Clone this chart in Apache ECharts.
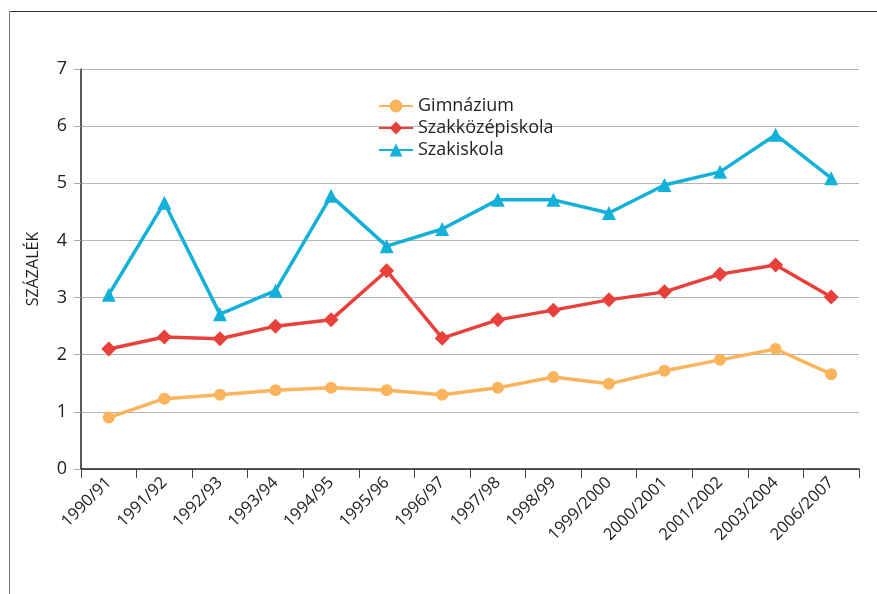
<!DOCTYPE html>
<html>
<head>
<meta charset="utf-8">
<script src="https://cdn.jsdelivr.net/npm/echarts@6/dist/echarts.min.js"></script>
<style>
  html, body { margin: 0; padding: 0; background: #fff; }
  #chart { width: 877px; height: 594px; }
</style>
</head>
<body>
<div id="chart"></div>
<script>
const categories = ['1990/91', '1991/92', '1992/93', '1993/94', '1994/95', '1995/96', '1996/97',
  '1997/98', '1998/99', '1999/2000', '2000/2001', '2001/2002', '2003/2004', '2006/2007'];
const gimnazium = [0.9, 1.23, 1.3, 1.38, 1.42, 1.38, 1.3, 1.42, 1.61, 1.49, 1.72, 1.91, 2.1, 1.66];
const szakkozep = [2.1, 2.31, 2.28, 2.5, 2.61, 3.47, 2.29, 2.61, 2.78, 2.96, 3.1, 3.41, 3.57, 3.01];
const szakiskola = [3.05, 4.66, 2.71, 3.12, 4.78, 3.9, 4.2, 4.71, 4.71, 4.48, 4.97, 5.2, 5.85, 5.09];

const chart = echarts.init(document.getElementById('chart'));
const font = '"Open Sans", "DejaVu Sans", sans-serif';

chart.setOption({
  animation: false,
  textStyle: { fontFamily: font },
  grid: { left: 81, top: 69, right: 18, bottom: 125 },
  graphic: [
    { type: 'line', shape: { x1: 9.5, y1: 11.5, x2: 9.5, y2: 594 }, style: { stroke: '#777', lineWidth: 1 } },
    { type: 'line', shape: { x1: 9.5, y1: 11.5, x2: 877, y2: 11.5 }, style: { stroke: '#333', lineWidth: 1 } }
  ],
  legend: {
    orient: 'vertical',
    left: 373,
    top: 92,
    itemWidth: 34,
    itemHeight: 16,
    itemGap: 4,
    textStyle: { fontSize: 18, color: '#222', fontFamily: font },
    data: ['Gimnázium', 'Szakközépiskola', 'Szakiskola']
  },
  xAxis: {
    type: 'category',
    data: categories,
    boundaryGap: true,
    axisLine: { lineStyle: { color: '#222', width: 1.5 } },
    axisTick: { show: true, length: 9, lineStyle: { color: '#444' } },
    axisLabel: { rotate: 45, fontSize: 16.5, color: '#222', margin: 11, interval: 0 }
  },
  yAxis: {
    type: 'value',
    min: 0,
    max: 7,
    interval: 1,
    name: 'SZÁZALÉK',
    nameLocation: 'middle',
    nameGap: 40,
    nameTextStyle: { fontSize: 16, color: '#222', fontFamily: font },
    axisLine: { show: true, lineStyle: { color: '#222', width: 1.5 } },
    axisTick: { show: true, length: 7, lineStyle: { color: '#aaa' } },
    axisLabel: { fontSize: 18, color: '#222', margin: 14 },
    splitLine: { lineStyle: { color: '#b5b5b5', width: 1.2 } }
  },
  series: [
    {
      name: 'Gimnázium', type: 'line', data: gimnazium,
      symbol: 'circle', symbolSize: 12,
      itemStyle: { color: '#fbb35c' },
      lineStyle: { width: 3.5, color: '#fbb35c' }
    },
    {
      name: 'Szakközépiskola', type: 'line', data: szakkozep,
      symbol: 'diamond', symbolSize: 15,
      itemStyle: { color: '#e8413b' },
      lineStyle: { width: 3.5, color: '#e8413b' }
    },
    {
      name: 'Szakiskola', type: 'line', data: szakiskola,
      symbol: 'triangle', symbolSize: 14,
      itemStyle: { color: '#13b1d9' },
      lineStyle: { width: 3.5, color: '#13b1d9' }
    }
  ]
});
</script>
</body>
</html>
